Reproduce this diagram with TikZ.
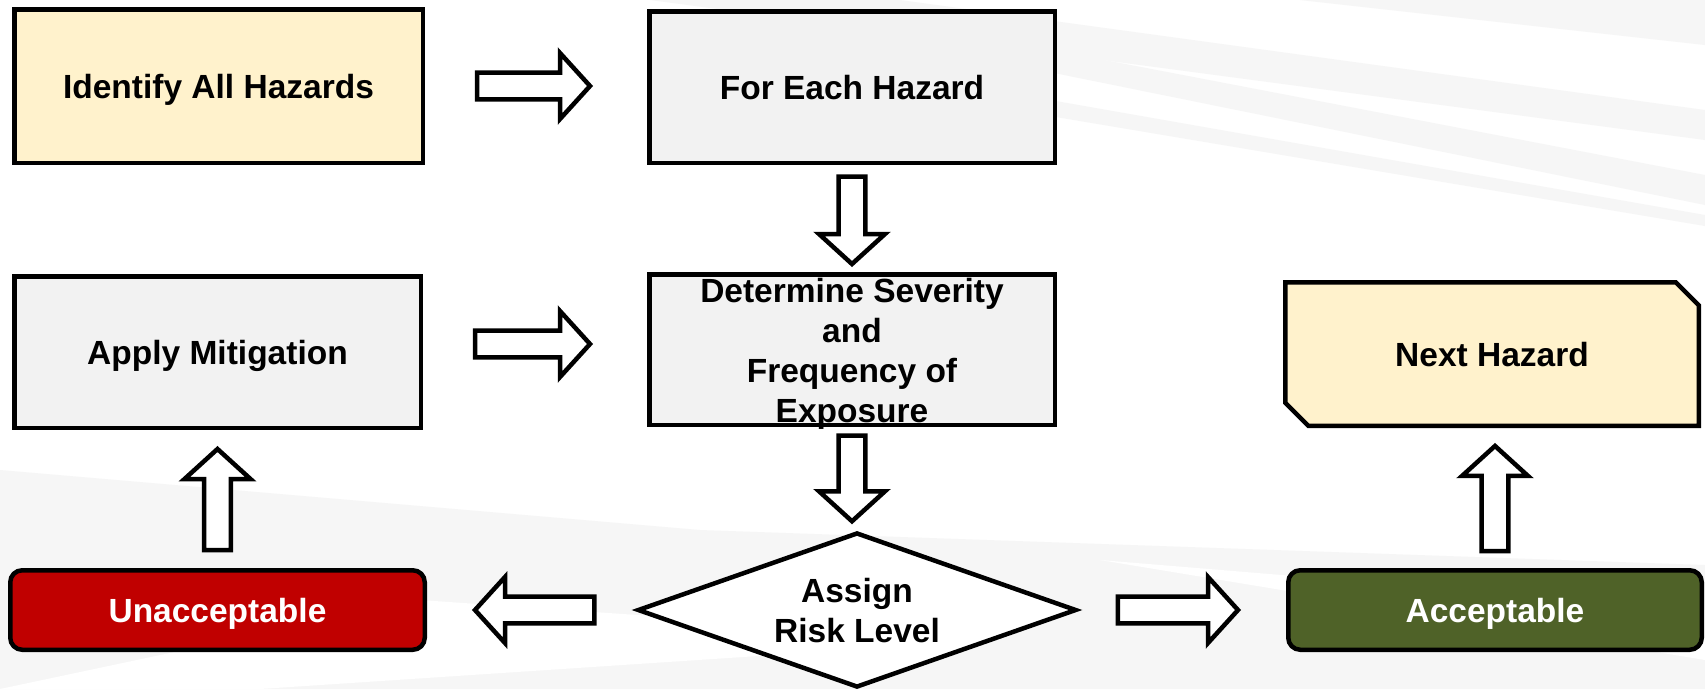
\documentclass[tikz,border=0pt]{standalone}
\usepackage{fontspec}
\setmainfont{Liberation Sans}
\usetikzlibrary{calc,shapes.geometric}
\definecolor{cream}{HTML}{FFF2CC}
\definecolor{boxgray}{HTML}{F2F2F2}
\definecolor{unred}{HTML}{C00000}
\definecolor{accgreen}{HTML}{4F6228}
\definecolor{streak}{HTML}{F6F6F6}
\tikzset{
  bas/.store in=\bas, bae/.store in=\bae, bas=50pt, bae=50pt,
  lbl/.style={font=\bfseries\fontsize{33.5}{40}\selectfont, align=center, inner sep=0pt},
  box/.style={lbl, draw=black, line width=4.5pt, text depth=0pt},
  blockarrow/.style={draw=black, line width=4.5pt, fill=white, line join=miter,
    to path={
      ($(\tikztostart)!\bas!(\tikztotarget)$) coordinate (ba-s)
      ($(\tikztotarget)!\bae!(\tikztostart)$) coordinate (ba-t)
      ($(ba-t)!30pt!(ba-s)$) coordinate (ba-b)
      ($(ba-s)!13.3pt!90:(ba-t)$) -- ($(ba-b)!13.3pt!90:(ba-t)$)
      -- ($(ba-b)!33pt!90:(ba-t)$) -- (ba-t)
      -- ($(ba-b)!33pt!-90:(ba-t)$) -- ($(ba-b)!13.3pt!-90:(ba-t)$)
      -- ($(ba-s)!13.3pt!-90:(ba-t)$) -- cycle
    }}
}
\begin{document}
\begin{tikzpicture}[x=1pt,y=-1pt]
\useasboundingbox (0,0) rectangle (1705,689);
% background
\fill[white] (0,0) rectangle (1705,689);
\fill[streak] (650,0) -- (900,0) -- (1705,110) -- (1705,140) -- cycle;
\fill[streak] (1000,40) -- (1705,175) -- (1705,205) -- (1000,62) -- cycle;
\fill[streak] (1050,100) -- (1705,215) -- (1705,226) -- (1050,116) -- cycle;
\fill[streak] (1300,0) -- (1705,0) -- (1705,45) -- cycle;
\fill[streak] (0,470) -- (700,530) -- (1705,565) -- (1705,689) -- (0,689) -- cycle;
\fill[white] (0,689) -- (420,600) -- (1000,640) -- (260,689) -- cycle;
\fill[white] (1705,610) -- (1100,560) -- (1705,660) -- cycle;

% nodes
\node[box, fill=cream, minimum width=408.5pt, minimum height=153.5pt] (ident) at (218.5,86) {Identify All Hazards};
\node[box, fill=boxgray, minimum width=405.5pt, minimum height=151.5pt] (each) at (852,87) {For Each Hazard};
\node[box, fill=boxgray, minimum width=406.5pt, minimum height=151.5pt] (apply) at (217.5,352) {Apply Mitigation};
\node[box, fill=boxgray, minimum width=405.5pt, minimum height=150.5pt] (det) at (852,349.5) {};
\node[lbl] (dettext) at ($(det.center)+(0,4.5)$) {Determine Severity\\and\\Frequency of\\Exposure};
\coordinate (nextc) at (1492,354);
\draw[line width=4.5pt, fill=cream, line join=miter]
  ($(nextc)+(-206.75,-71.75)$) -- ($(nextc)+(183.75,-71.75)$) -- ($(nextc)+(206.75,-48.75)$)
  -- ($(nextc)+(206.75,71.75)$) -- ($(nextc)+(-183.75,71.75)$) -- ($(nextc)+(-206.75,48.75)$) -- cycle;
\node[lbl, text depth=0pt, minimum width=413.5pt, minimum height=143.5pt] (next) at (nextc) {Next Hazard};
\node[box, fill=unred, text=white, rounded corners=12pt, minimum width=414.5pt, minimum height=79.5pt] (unacc) at (217.5,610) {Unacceptable};
\node[box, fill=accgreen, text=white, rounded corners=12pt, minimum width=413.5pt, minimum height=79.5pt] (acc) at (1495,610) {Acceptable};
\node[box, diamond, fill=white, line join=miter, minimum width=439pt, minimum height=155pt, aspect=2.85] (assign) at (857,610) {};
\node[lbl] (assigntext) at ($(assign.center)+(0,0.5)$) {Assign\\Risk Level};

% connectors
\draw[blockarrow, bas=52pt, bae=57pt] (ident.east) to (ident.east -| each.west);
\draw[blockarrow, bas=11.5pt, bae=8pt] (each.south) to (each.south |- det.north);
\coordinate (a2s) at ($(apply.east)+(0,-8)$);
\draw[blockarrow, bas=52pt, bae=57pt] (a2s) to (a2s -| det.west);
\draw[blockarrow, bas=8.5pt, bae=9pt] (det.south) to (det.south |- assign.north);
\draw[blockarrow, bas=41pt, bae=48pt] (assign.west) to (assign.west -| unacc.east);
\draw[blockarrow, bas=39pt, bae=48pt] (assign.east) to (assign.east -| acc.west);
\draw[blockarrow, bas=18pt, bae=19pt] (unacc.north) to (unacc.north |- apply.south);
\draw[blockarrow, bas=17pt, bae=20pt] (acc.north) to (acc.north |- next.south);
\end{tikzpicture}
\end{document}
